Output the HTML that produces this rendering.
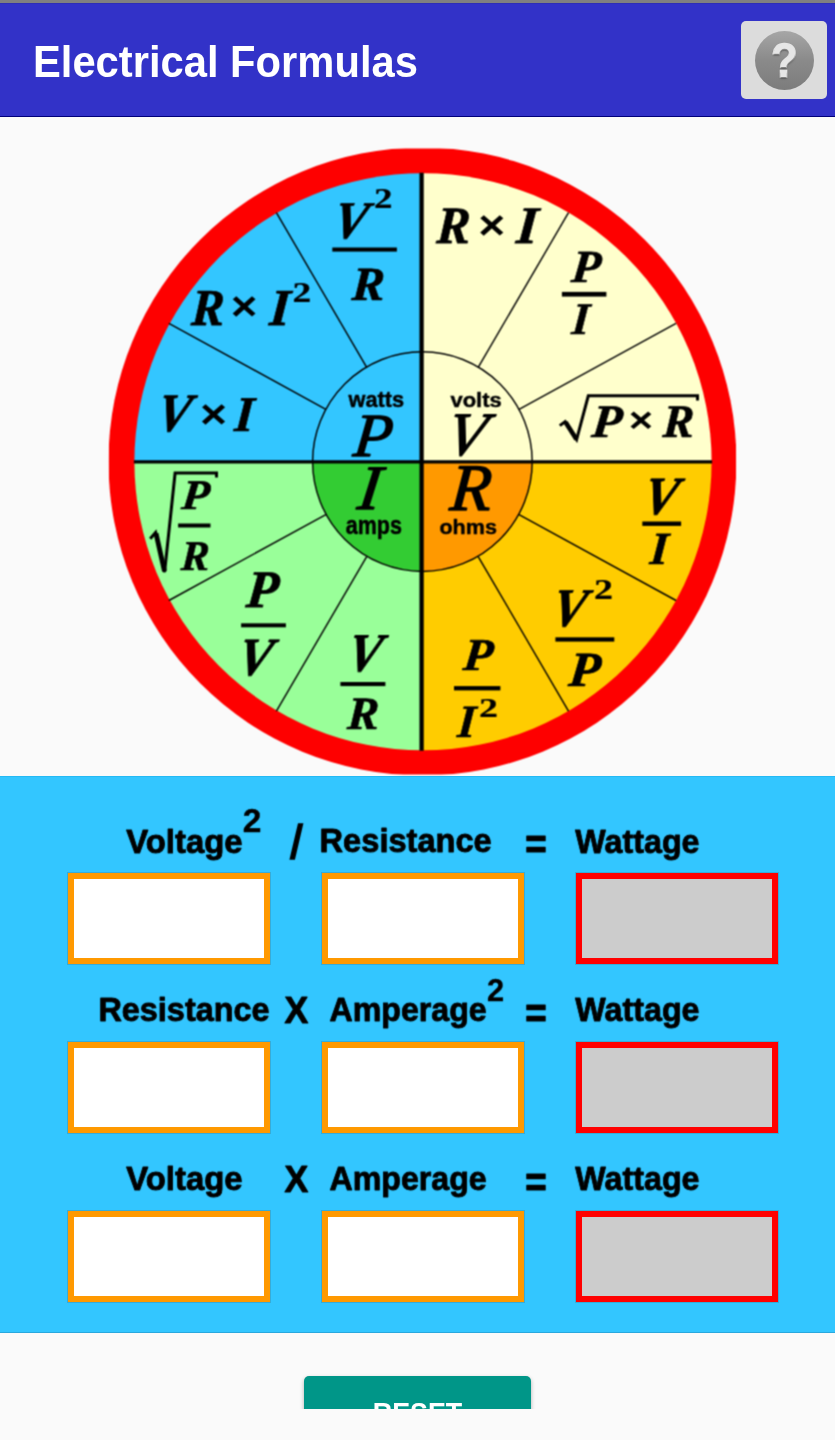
<!DOCTYPE html>
<html lang="en">
<head>
<meta charset="utf-8">
<title>Electrical Formulas</title>
<style>
html,body{margin:0;padding:0;}
body{width:835px;height:1440px;background:#fafafa;position:relative;overflow:hidden;font-family:"Liberation Sans",sans-serif;}
.abs{position:absolute;}
#status{left:0;top:0;width:835px;height:4px;background:linear-gradient(#808080 0,#808080 3px,#2e2eb6 3px,#2e2eb6 4px);}
#appbar{left:0;top:4px;width:835px;height:113px;background:#3232c8;border-bottom:1px solid #00007a;box-sizing:border-box;}
#title{left:33.1px;top:36.4px;color:#fff;font-size:45px;font-weight:bold;line-height:52px;white-space:nowrap;transform:scaleX(0.927);transform-origin:0 0;}
#help{left:741px;top:21px;width:86px;height:78px;border-radius:5px;background:#dcdcdc;}
#helpc{left:14px;top:9.5px;width:59px;height:59px;border-radius:50%;background:linear-gradient(#a6a6a6,#8a8a8a 50%,#7c7c7c);}
#helpq{left:0;top:0;width:59px;height:59px;color:#e6e6e6;font-weight:bold;font-size:49px;line-height:59px;text-align:center;-webkit-text-stroke:1.6px #e6e6e6;paint-order:stroke fill;stroke-linejoin:round;text-shadow:0 1.5px 1.5px rgba(60,60,60,.55);transform:scaleX(0.88);}
#wheel{left:0;top:117px;}
#wheel text.f{font-family:"Liberation Serif",serif;font-weight:bold;font-style:italic;fill:#000;}
#wheel text.s{font-family:"Liberation Sans",sans-serif;font-weight:bold;fill:#000;}
#wheel text.fi{font-family:"Liberation Serif",serif;font-style:italic;fill:#000;}
#wheel text.fb{font-family:"Liberation Serif",serif;font-weight:bold;fill:#000;}
#labels{left:0;top:777px;}
#labels text{fill:#000;}
#labels text.s{font-family:"Liberation Sans",sans-serif;font-weight:bold;}
#labels text.sr{font-family:"Liberation Sans",sans-serif;}
#labels text.sbi{font-family:"Liberation Sans",sans-serif;font-weight:bold;font-style:italic;}
#panel{left:0;top:776px;width:835px;height:557px;background:#33c6ff;box-sizing:border-box;border-top:1px solid #25b9f4;border-bottom:1px solid #2aa8de;}
.box{position:absolute;width:202px;height:91px;box-sizing:border-box;border:6px solid #ff9900;background:#fff;box-shadow:0 0 0 1px rgba(70,100,110,0.28);}
.box.out{border-color:#ff0000;background:#cccccc;}
.lbl{position:absolute;font-weight:bold;font-size:32px;line-height:36px;color:#000;white-space:nowrap;}
#clip{left:0;top:1360px;width:835px;height:49px;overflow:hidden;}
#btn{left:304px;top:16px;width:227px;height:80px;border-radius:5px;background:#009688;color:#fff;text-align:center;font-weight:bold;font-size:30px;box-shadow:0 2px 4px rgba(0,0,0,.3);}
#btn span{position:absolute;left:0;width:227px;top:19.4px;line-height:36px;transform:scaleX(0.895);}
</style>
</head>
<body>
<div id="appbar" class="abs"></div>
<div id="status" class="abs"></div>
<div id="title" class="abs">Electrical Formulas</div>
<div id="help" class="abs"><div id="helpc" class="abs"><div id="helpq" class="abs">?</div></div></div>

<svg id="wheel" class="abs" width="835" height="660" viewBox="0 117 835 660">
<filter id="soft" x="-2%" y="-2%" width="104%" height="104%" color-interpolation-filters="sRGB"><feConvolveMatrix order="3" kernelMatrix="1 2 1 2 4 2 1 2 1" divisor="16" edgeMode="duplicate" preserveAlpha="true"/></filter>
<filter id="soft2" x="-2%" y="-2%" width="104%" height="104%" color-interpolation-filters="sRGB"><feConvolveMatrix order="3" kernelMatrix="1 3 1 3 9 3 1 3 1" divisor="25" edgeMode="duplicate" preserveAlpha="true"/></filter>
<g filter="url(#soft)">
<rect x="-5" y="112" width="845" height="670" fill="#fafafa"/>
<defs><clipPath id="cimg"><rect x="108.8" y="148.6" width="627.3" height="625.9"/></clipPath><clipPath id="cin"><circle cx="423.0" cy="461.75" r="288.6"/></clipPath><clipPath id="cc"><circle cx="422.4" cy="461.59999999999997" r="109.8"/></clipPath></defs>
<circle cx="422.45" cy="461.55" r="314.0" fill="#fe0000" clip-path="url(#cimg)"/>
<rect x="421.6" y="100" width="378.40" height="361.85" fill="#ffffcc" clip-path="url(#cin)"/>
<rect x="100" y="100" width="321.60" height="361.85" fill="#33c6ff" clip-path="url(#cin)"/>
<rect x="100" y="461.85" width="321.60" height="338.15" fill="#99ff99" clip-path="url(#cin)"/>
<rect x="421.6" y="461.85" width="378.40" height="338.15" fill="#ffcc00" clip-path="url(#cin)"/>
<rect x="100" y="461.85" width="321.60" height="338.15" fill="#33cc33" clip-path="url(#cc)"/>
<rect x="421.6" y="461.85" width="378.40" height="338.15" fill="#ff9900" clip-path="url(#cc)"/>
<circle cx="422.4" cy="461.59999999999997" r="109.8" fill="none" stroke="#000" stroke-width="1.45"/>
<line x1="519.04" y1="409.27" x2="676.04" y2="323.31" stroke="#000" stroke-width="1.45"/>
<line x1="478.20" y1="367.27" x2="568.51" y2="212.72" stroke="#000" stroke-width="1.45"/>
<line x1="325.86" y1="409.27" x2="168.86" y2="323.31" stroke="#000" stroke-width="1.45"/>
<line x1="366.70" y1="367.27" x2="276.39" y2="212.72" stroke="#000" stroke-width="1.45"/>
<line x1="325.86" y1="514.53" x2="168.86" y2="600.49" stroke="#000" stroke-width="1.45"/>
<line x1="366.70" y1="556.53" x2="276.39" y2="711.08" stroke="#000" stroke-width="1.45"/>
<line x1="519.04" y1="514.53" x2="676.04" y2="600.49" stroke="#000" stroke-width="1.45"/>
<line x1="478.20" y1="556.53" x2="568.51" y2="711.08" stroke="#000" stroke-width="1.45"/>
<line x1="133.89999999999998" y1="461.85" x2="712.1" y2="461.85" stroke="#000" stroke-width="3.1"/>
<line x1="421.6" y1="172.64999999999998" x2="421.6" y2="750.85" stroke="#000" stroke-width="4.3"/>
<text class="f" font-size="100" transform="matrix(0.5000 0 -0.1000 0.5284 331.25 237.77)" stroke="#000" stroke-width="1.5" stroke-linejoin="miter">V</text>
<text class="fb" font-size="100" transform="matrix(0.3702 0 0.0000 0.2849 374.05 207.75)" stroke="#000" stroke-width="0.8" stroke-linejoin="miter">2</text>
<text class="f" font-size="100" transform="matrix(0.4889 0 -0.0293 0.4760 351.24 299.75)" stroke="#000" stroke-width="1.5" stroke-linejoin="miter">R</text>
<text class="f" font-size="100" transform="matrix(0.4905 0 -0.0294 0.5189 190.64 324.65)" stroke="#000" stroke-width="1.5" stroke-linejoin="miter">R</text>
<text class="s" font-size="100" transform="matrix(0.4570 0 0.0000 0.4100 230.82 320.42)" >×</text>
<text class="f" font-size="100" transform="matrix(0.5160 0 -0.0413 0.5189 268.75 324.65)" stroke="#000" stroke-width="1.5" stroke-linejoin="miter">I</text>
<text class="fb" font-size="100" transform="matrix(0.3750 0 0.0000 0.2879 292.62 301.95)" stroke="#000" stroke-width="0.8" stroke-linejoin="miter">2</text>
<text class="f" font-size="100" transform="matrix(0.4985 0 -0.0997 0.5403 154.78 431.35)" stroke="#000" stroke-width="1.5" stroke-linejoin="miter">V</text>
<text class="s" font-size="100" transform="matrix(0.4631 0 0.0000 0.4080 199.99 427.50)" >×</text>
<text class="f" font-size="100" transform="matrix(0.4909 0 -0.0393 0.4990 233.73 430.55)" stroke="#000" stroke-width="1.5" stroke-linejoin="miter">I</text>
<text class="f" font-size="100" transform="matrix(0.5012 0 -0.0301 0.5250 435.94 243.25)" stroke="#000" stroke-width="1.5" stroke-linejoin="miter">R</text>
<text class="s" font-size="100" transform="matrix(0.4631 0 0.0000 0.4120 478.29 238.73)" >×</text>
<text class="f" font-size="100" transform="matrix(0.5453 0 -0.0436 0.5250 515.58 243.25)" stroke="#000" stroke-width="1.5" stroke-linejoin="miter">I</text>
<text class="f" font-size="100" transform="matrix(0.4750 0 -0.0475 0.4592 570.43 281.75)" stroke="#000" stroke-width="1.5" stroke-linejoin="miter">P</text>
<text class="f" font-size="100" transform="matrix(0.4492 0 -0.0359 0.4500 570.89 334.45)" stroke="#000" stroke-width="1.5" stroke-linejoin="miter">I</text>
<text class="f" font-size="100" transform="matrix(0.4900 0 -0.0490 0.4668 590.83 436.65)" stroke="#000" stroke-width="1.5" stroke-linejoin="miter">P</text>
<text class="s" font-size="100" transform="matrix(0.4168 0 0.0000 0.3460 628.69 431.78)" >×</text>
<text class="f" font-size="100" transform="matrix(0.4628 0 -0.0278 0.4668 662.34 436.65)" stroke="#000" stroke-width="1.5" stroke-linejoin="miter">R</text>
<text class="f" font-size="100" transform="matrix(0.4510 0 -0.0451 0.4224 180.73 509.05)" stroke="#000" stroke-width="1.5" stroke-linejoin="miter">P</text>
<text class="f" font-size="100" transform="matrix(0.4228 0 -0.0254 0.4224 180.54 570.15)" stroke="#000" stroke-width="1.5" stroke-linejoin="miter">R</text>
<text class="f" font-size="100" transform="matrix(0.5230 0 -0.0523 0.5281 245.13 606.75)" stroke="#000" stroke-width="1.5" stroke-linejoin="miter">P</text>
<text class="f" font-size="100" transform="matrix(0.5074 0 -0.1015 0.5373 235.61 675.05)" stroke="#000" stroke-width="1.5" stroke-linejoin="miter">V</text>
<text class="f" font-size="100" transform="matrix(0.5029 0 -0.1006 0.5418 345.30 670.95)" stroke="#000" stroke-width="1.5" stroke-linejoin="miter">V</text>
<text class="f" font-size="100" transform="matrix(0.4705 0 -0.0282 0.4638 346.64 729.05)" stroke="#000" stroke-width="1.5" stroke-linejoin="miter">R</text>
<text class="f" font-size="100" transform="matrix(0.5088 0 -0.1018 0.5373 641.19 514.15)" stroke="#000" stroke-width="1.5" stroke-linejoin="miter">V</text>
<text class="f" font-size="100" transform="matrix(0.4617 0 -0.0369 0.4592 649.20 564.15)" stroke="#000" stroke-width="1.5" stroke-linejoin="miter">I</text>
<text class="f" font-size="100" transform="matrix(0.5029 0 -0.1006 0.5433 550.00 626.34)" stroke="#000" stroke-width="1.5" stroke-linejoin="miter">V</text>
<text class="fb" font-size="100" transform="matrix(0.3798 0 0.0000 0.2985 594.10 599.05)" stroke="#000" stroke-width="0.8" stroke-linejoin="miter">2</text>
<text class="f" font-size="100" transform="matrix(0.5125 0 -0.0512 0.4913 567.83 686.15)" stroke="#000" stroke-width="1.5" stroke-linejoin="miter">P</text>
<text class="f" font-size="100" transform="matrix(0.4810 0 -0.0481 0.4561 462.33 669.85)" stroke="#000" stroke-width="1.5" stroke-linejoin="miter">P</text>
<text class="f" font-size="100" transform="matrix(0.4575 0 -0.0366 0.4622 456.80 736.95)" stroke="#000" stroke-width="1.5" stroke-linejoin="miter">I</text>
<text class="fb" font-size="100" transform="matrix(0.3798 0 0.0000 0.2714 478.90 716.75)" stroke="#000" stroke-width="0.8" stroke-linejoin="miter">2</text>
<text class="s" font-size="100" transform="matrix(0.2175 0 0.0000 0.2201 348.52 407.23)" stroke="#000" stroke-width="2.2" stroke-linejoin="round">watts</text>
<text class="s" font-size="100" transform="matrix(0.2197 0 0.0000 0.2059 450.48 407.24)" stroke="#000" stroke-width="2.2" stroke-linejoin="round">volts</text>
<text class="s" font-size="100" transform="matrix(0.2151 0 0.0000 0.2585 345.80 533.91)" stroke="#000" stroke-width="2.2" stroke-linejoin="round">amps</text>
<text class="s" font-size="100" transform="matrix(0.2157 0 0.0000 0.2086 439.39 534.34)" stroke="#000" stroke-width="2.2" stroke-linejoin="round">ohms</text>
<text class="fi" font-size="100" transform="matrix(0.6336 0 -0.0634 0.6138 352.30 455.60)" stroke="#000" stroke-width="2.2" stroke-linejoin="round">P</text>
<text class="fi" font-size="100" transform="matrix(0.6231 0 -0.1246 0.6164 443.93 455.17)" stroke="#000" stroke-width="2.2" stroke-linejoin="round">V</text>
<text class="fi" font-size="100" transform="matrix(0.6708 0 -0.0805 0.6321 356.20 508.50)" stroke="#000" stroke-width="2.2" stroke-linejoin="round">I</text>
<text class="fi" font-size="100" transform="matrix(0.6722 0 -0.0538 0.6643 449.03 510.20)" stroke="#000" stroke-width="2.2" stroke-linejoin="round">R</text>
<rect x="332.3" y="247.5" width="64.60" height="4.10" fill="#000"/>
<rect x="561.9" y="291.9" width="44.50" height="4.70" fill="#000"/>
<rect x="178.1" y="523.5" width="32.40" height="4.00" fill="#000"/>
<rect x="241.1" y="623.3" width="44.80" height="4.00" fill="#000"/>
<rect x="340.4" y="682" width="45.00" height="4.10" fill="#000"/>
<rect x="642.3" y="521.5" width="38.80" height="4.40" fill="#000"/>
<rect x="555.4" y="637.3" width="58.90" height="4.30" fill="#000"/>
<rect x="454" y="686.1" width="46.40" height="4.30" fill="#000"/>
<path d="M559.8 425.6 L565.2 421.6 L576.6 439.6 L588.3 395.8 L697.5 395.8 L697.5 400.5" fill="none" stroke="#000" stroke-width="3" stroke-linejoin="miter"/>
<path d="M565.6 422.2 L576.4 439.2" fill="none" stroke="#000" stroke-width="4.6"/>
<path d="M150.2 538.8 L155.6 532.4 L164.6 572.2 L175.1 473.1 L216.5 473.1 L216.5 477.6" fill="none" stroke="#000" stroke-width="3" stroke-linejoin="miter"/>
<path d="M156 533.4 L164.5 571.2" fill="none" stroke="#000" stroke-width="4.8"/>
</g>
</svg>

<div id="panel" class="abs"></div>
<svg id="labels" class="abs" width="835" height="555" viewBox="0 777 835 555">
<g filter="url(#soft2)">
<rect x="-5" y="770" width="845" height="570" fill="#33c6ff"/>
<text class="s" font-size="100" transform="matrix(0.3292 0 0.0000 0.3397 126.23 852.52)" stroke="#000" stroke-width="2.6" stroke-linejoin="round">Voltage</text>
<text class="s" font-size="100" transform="matrix(0.3352 0 0.0000 0.3230 242.63 831.75)" stroke="#000" stroke-width="1">2</text>
<text class="sbi" font-size="100" transform="matrix(0.2702 0 0.0000 0.4453 292.04 857.16)" stroke="#000" stroke-width="8" stroke-linejoin="miter">/</text>
<text class="s" font-size="100" transform="matrix(0.3261 0 0.0000 0.3375 319.58 852.36)" stroke="#000" stroke-width="2.6" stroke-linejoin="round">Resistance</text>
<text class="s" font-size="100" transform="matrix(0.3675 0 0.0000 0.4221 525.28 858.90)" stroke="#000" stroke-width="2.6" stroke-linejoin="round">=</text>
<text class="s" font-size="100" transform="matrix(0.3225 0 0.0000 0.3390 575.35 852.53)" stroke="#000" stroke-width="2.6" stroke-linejoin="round">Wattage</text>
<text class="s" font-size="100" transform="matrix(0.3243 0 0.0000 0.3375 98.39 1021.16)" stroke="#000" stroke-width="2.6" stroke-linejoin="round">Resistance</text>
<text class="s" font-size="100" transform="matrix(0.3557 0 0.0000 0.3714 284.49 1023.45)" stroke="#000" stroke-width="2.6" stroke-linejoin="round">X</text>
<text class="s" font-size="100" transform="matrix(0.3217 0 0.0000 0.3390 329.49 1021.33)" stroke="#000" stroke-width="2.6" stroke-linejoin="round">Amperage</text>
<text class="s" font-size="100" transform="matrix(0.3083 0 0.0000 0.3086 487.12 1000.95)" stroke="#000" stroke-width="1">2</text>
<text class="s" font-size="100" transform="matrix(0.3675 0 0.0000 0.4221 525.28 1027.70)" stroke="#000" stroke-width="2.6" stroke-linejoin="round">=</text>
<text class="s" font-size="100" transform="matrix(0.3225 0 0.0000 0.3390 575.35 1021.33)" stroke="#000" stroke-width="2.6" stroke-linejoin="round">Wattage</text>
<text class="s" font-size="100" transform="matrix(0.3292 0 0.0000 0.3397 126.23 1190.22)" stroke="#000" stroke-width="2.6" stroke-linejoin="round">Voltage</text>
<text class="s" font-size="100" transform="matrix(0.3557 0 0.0000 0.3714 284.49 1192.35)" stroke="#000" stroke-width="2.6" stroke-linejoin="round">X</text>
<text class="s" font-size="100" transform="matrix(0.3217 0 0.0000 0.3390 329.49 1190.23)" stroke="#000" stroke-width="2.6" stroke-linejoin="round">Amperage</text>
<text class="s" font-size="100" transform="matrix(0.3675 0 0.0000 0.4221 525.28 1196.60)" stroke="#000" stroke-width="2.6" stroke-linejoin="round">=</text>
<text class="s" font-size="100" transform="matrix(0.3225 0 0.0000 0.3390 575.35 1190.23)" stroke="#000" stroke-width="2.6" stroke-linejoin="round">Wattage</text>
</g>
</svg>
<div class="box" style="left:68px;top:873.0px;"></div>
<div class="box" style="left:322px;top:873.0px;"></div>
<div class="box out" style="left:576px;top:873.0px;"></div>
<div class="box" style="left:68px;top:1042.0px;"></div>
<div class="box" style="left:322px;top:1042.0px;"></div>
<div class="box out" style="left:576px;top:1042.0px;"></div>
<div class="box" style="left:68px;top:1211.0px;"></div>
<div class="box" style="left:322px;top:1211.0px;"></div>
<div class="box out" style="left:576px;top:1211.0px;"></div>

<div id="clip" class="abs"><div id="btn" class="abs"><span>RESET</span></div></div>
</body>
</html>
